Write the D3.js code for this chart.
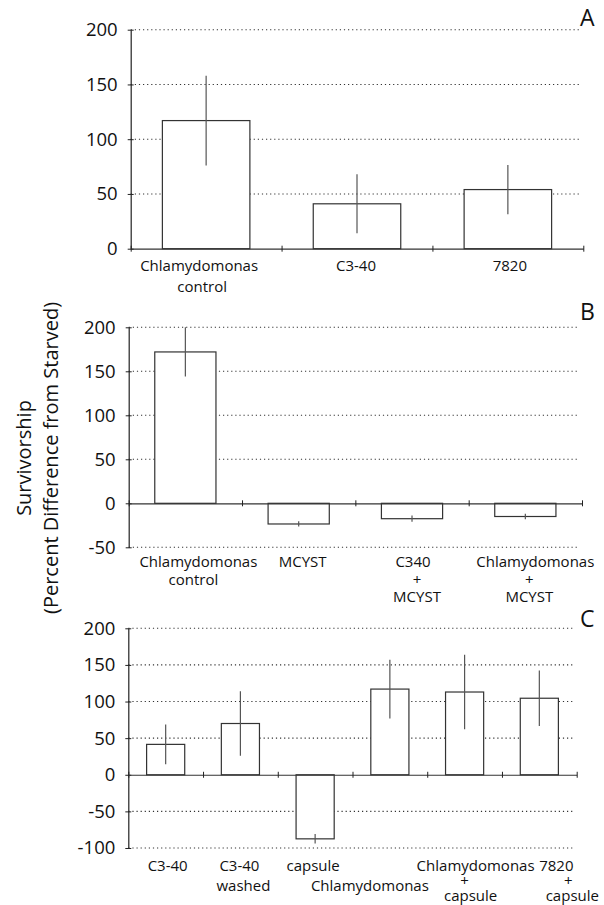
<!DOCTYPE html>
<html>
<head>
<meta charset="utf-8">
<script src="https://cdn.jsdelivr.net/npm/d3@7"></script>
<style>
    body { margin: 0; background: #fff; }
    svg { display: block; font-family: "Open Sans", sans-serif; }
</style>
</head>
<body>
<svg id="chart" width="604" height="905"></svg>
<script>
// panel A
const catsA = ["Chlamydomonas\ncontrol", "C3-40", "7820"];
const meanA = [117, 41, 54];
const errA = [41, 27, 22.5];
const ticksA = [0, 50, 100, 150, 200];

// panel B
const catsB = ["Chlamydomonas\ncontrol", "MCYST", "C340\n+\nMCYST", "Chlamydomonas\n+\nMCYST"];
const meanB = [172, -23.5, -17.5, -15];
const errB = [28, 3, 3.5, 3];
const ticksB = [-50, 0, 50, 100, 150, 200];

// panel C
const catsC = ["C3-40", "C3-40\nwashed", "capsule", "\nChlamydomonas", "Chlamydomonas\n+\ncapsule", "7820\n+\ncapsule"];
const meanC = [41.5, 70, -87.5, 117, 113, 104.5];
const errC = [27, 44, 6.5, 40, 51, 38];
const ticksC = [-100, -50, 0, 50, 100, 150, 200];

// layout of each panel on the page
let panels = [
    { letter: "A", cats: catsA, mean: meanA, err: errA, ticks: ticksA,
      left: 130.7, right: 583.3, top: 29.7, bottom: 248.7, barFrac: 0.58,
      labelY: 270.7, lh: 21, lh3: 21, letterY: 25.7,
      nudge: [[-7, -4], [-1], [2]] },
    { letter: "B", cats: catsB, mean: meanB, err: errB, ticks: ticksB,
      left: 128.7, right: 582, top: 327.3, bottom: 547.3, barFrac: 0.54,
      labelY: 567, lh: 18, lh3: 17.5, letterY: 320,
      nudge: [[13, 8], [4], [1, 5, 5], [10, 4, 4]] },
    { letter: "C", cats: catsC, mean: meanC, err: errC, ticks: ticksC,
      left: 128.3, right: 576.7, top: 628.3, bottom: 848, barFrac: 0.51,
      labelY: 871, lh: 20, lh3: 15, letterY: 627.3,
      nudge: [[2], [-1, 3], [-2], [0, -20], [11, 0, 6], [17, 29, 33]] }
];

let svg = d3.select("#chart");

panels.forEach(p => drawPanel(p));

function drawPanel(p) {
    let g = svg.append("g");
    let n = p.cats.length;

    let y = d3.scaleLinear()
        .domain(d3.extent(p.ticks))
        .range([p.bottom, p.top]);

    let x = d3.scaleBand()
        .domain(d3.range(n))
        .range([p.left, p.right])
        .padding(0);

    // boundaries between categories carry the x ticks
    let xEdge = d3.scaleLinear()
        .domain([0, n])
        .range([p.left, p.right]);

    // dotted grid
    g.selectAll(".grid")
        .data(p.ticks.filter(t => t != 0))
        .enter()
        .append("line")
        .attr("x1", p.left)
        .attr("x2", p.right - 4)
        .attr("y1", d => y(d))
        .attr("y2", d => y(d))
        .attr("stroke", "#333")
        .attr("stroke-width", 1.1)
        .attr("stroke-dasharray", "1.2,2.9");

    let bw = x.bandwidth() * p.barFrac;
    let cx = i => x(i) + x.bandwidth() / 2;

    g.selectAll(".bar")
        .data(p.mean)
        .enter()
        .append("rect")
        .attr("x", (d, i) => cx(i) - bw / 2)
        .attr("y", d => y(Math.max(0, d)))
        .attr("width", bw)
        .attr("height", d => Math.abs(y(d) - y(0)))
        .attr("fill", "#fff")
        .attr("stroke", "#333")
        .attr("stroke-width", 1.2);

    g.selectAll(".err")
        .data(p.mean)
        .enter()
        .append("line")
        .attr("x1", (d, i) => cx(i))
        .attr("x2", (d, i) => cx(i))
        .attr("y1", (d, i) => y(d + p.err[i]))
        .attr("y2", (d, i) => y(d - p.err[i]))
        .attr("stroke", "#555")
        .attr("stroke-width", 1.2);

    // y axis
    let yAxis = g.append("g")
        .attr("transform", `translate(${p.left},0)`)
        .call(d3.axisLeft(y)
            .tickValues(p.ticks)
            .tickSizeOuter(0)
            .tickSizeInner(3)
            .tickPadding(10)
            .tickFormat(d => String(d)));

    yAxis.select(".domain").attr("stroke", "#222").attr("stroke-width", 1.2);
    yAxis.selectAll(".tick line").attr("x1", -3).attr("x2", 3).attr("stroke", "#222");
    yAxis.selectAll(".tick text")
        .attr("font-size", "18.5px")
        .attr("font-family", "Open Sans, sans-serif")
        .attr("fill", "#111");

    // x axis at zero
    let xAxis = g.append("g")
        .attr("transform", `translate(0,${y(0)})`)
        .call(d3.axisBottom(xEdge)
            .tickValues(d3.range(n + 1))
            .tickSizeOuter(0)
            .tickSizeInner(3)
            .tickFormat(""));

    xAxis.select(".domain").attr("stroke", "#333").attr("stroke-width", 1.2);
    xAxis.selectAll(".tick line").attr("y1", -3).attr("y2", 3).attr("stroke", "#222");

    // category labels, each line its own text
    p.cats.forEach((c, i) => {
        let lines = c.split("\n");
        let step = lines.length == 3 ? p.lh3 : p.lh;
        lines.forEach((line, k) => {
            if (line == "") return;
            g.append("text")
                .attr("font-size", "15px")
                .attr("fill", "#111")
                .attr("text-anchor", "middle")
                .attr("x", cx(i) + (p.nudge[i][k] || 0))
                .attr("y", p.labelY + k * step)
                .text(line);
        });
    });

    g.append("text")
        .attr("x", 580)
        .attr("y", p.letterY)
        .attr("font-size", "23px")
        .attr("fill", "#111")
        .text(p.letter);
}

// shared y title
let title = svg.append("text")
    .attr("transform", "translate(0,458) rotate(-90)")
    .attr("text-anchor", "middle")
    .attr("font-size", "20px")
    .attr("fill", "#111");

title.append("tspan").attr("x", 0).attr("y", 30.5).text("Survivorship");
title.append("tspan").attr("x", 0).attr("y", 58).text("(Percent Difference from Starved)");
</script>
</body>
</html>
